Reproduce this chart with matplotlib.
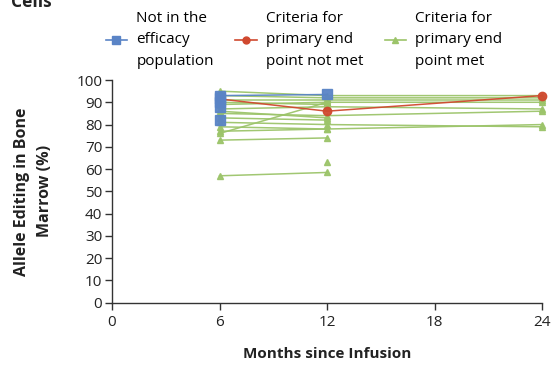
#!/usr/bin/env python3

import numpy as np
import matplotlib
matplotlib.use("Agg")
import matplotlib.pyplot as plt
from matplotlib.lines import Line2D

plt.rcParams["font.family"] = ["Open Sans", "DejaVu Sans"]

months = [6, 12, 24]

# one row per patient, values at 6, 12, 24 months (nan = not measured)
not_efficacy = [
    [93, 93.5, np.nan],
    [92, np.nan, np.nan],
    [90, np.nan, np.nan],
    [88, np.nan, np.nan],
    [82, np.nan, np.nan],
]
not_met = [
    [91.5, 86, 93],
]
met = [
    [57, 58.5, np.nan],
    [73, 74, np.nan],
    [76, 90, np.nan],
    [77, 78, np.nan],
    [np.nan, 63, np.nan],
    [79, 78, 80],
    [81, 80, 79],
    [83, 82, np.nan],
    [85, 84, 86],
    [86, 83, np.nan],
    [87, 88, 87],
    [89, 90, 90],
    [90, 89, np.nan],
    [91, 91, 91],
    [93, 92, 92],
    [95, 93, 93],
]

legend_labels = [
    "Not in the\nefficacy\npopulation",
    "Criteria for\nprimary end\npoint not met",
    "Criteria for\nprimary end\npoint met",
]

BLUE = "#5a84c6"
RED = "#d0492f"
GREEN = "#9cc46a"

fig = plt.figure(figsize=(5.59, 3.67), dpi=100)
ax = fig.add_axes([0.2004, 0.175, 0.7692, 0.607])


def draw_group(rows, color, marker, ms):
    for row in rows:
        y = np.array(row, dtype=float)
        x = np.array(months, dtype=float)
        ok = ~np.isnan(y)
        ax.plot(x[ok], y[ok], color=color, marker=marker, markersize=ms,
                linewidth=1.1, clip_on=False, alpha=0.95)


draw_group(met, GREEN, "^", 5)
draw_group(not_met, RED, "o", 6)
draw_group(not_efficacy, BLUE, "s", 7.5)

ax.set_xlim(0, 24)
ax.set_ylim(0, 100)
ax.set_xticks([0, 6, 12, 18, 24])
ax.set_yticks(np.arange(0, 101, 10))
ax.spines["top"].set_visible(False)
ax.spines["right"].set_visible(False)
for s in ("left", "bottom"):
    ax.spines[s].set_linewidth(1.0)
    ax.spines[s].set_color("#333333")
ax.tick_params(axis="both", direction="out", length=5, width=1.0,
               labelsize=11, color="#333333", labelcolor="#222222", pad=2)
ax.tick_params(axis="x", pad=4)

ax.set_xlabel("Months since Infusion", fontsize=11, fontweight="bold",
              labelpad=12, color="#222222")
ax.set_ylabel("Allele Editing in Bone\nMarrow (%)", fontsize=11.5,
              fontweight="bold", labelpad=17, color="#222222",
              linespacing=1.55)

handles = [
    Line2D([], [], color=BLUE, marker="s", markersize=6, linewidth=1.2),
    Line2D([], [], color=RED, marker="o", markersize=5, linewidth=1.2),
    Line2D([], [], color=GREEN, marker="^", markersize=5, linewidth=1.2),
]
leg = fig.legend(handles, legend_labels, loc="upper left",
                 bbox_to_anchor=(0.17, 1.0), ncol=3, frameon=False,
                 fontsize=11, handlelength=1.4, handletextpad=0.6,
                 columnspacing=1.4, labelspacing=0.2, borderaxespad=0.3)
for t in leg.get_texts():
    t.set_linespacing(1.6)

fig.text(0.02, 0.982, "Cells", fontsize=12.5, fontweight="bold",
         color="#222222", va="baseline")

fig.savefig("out.png", dpi=100)
